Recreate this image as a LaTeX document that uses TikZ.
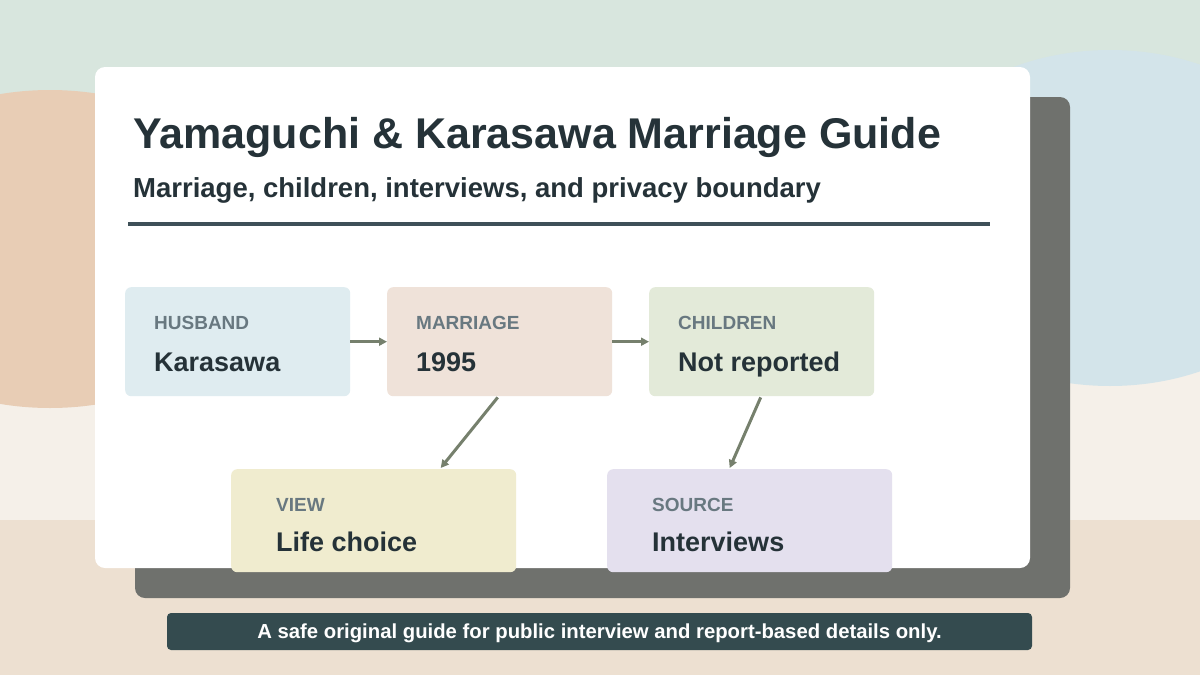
\documentclass[tikz,border=0pt]{standalone}
\usepackage{fontspec}
\setmainfont{Liberation Sans}
\usetikzlibrary{arrows.meta,calc,positioning}
\definecolor{BandGreen}{HTML}{D8E6DE}
\definecolor{BandCream}{HTML}{F5F0E9}
\definecolor{BandBeige}{HTML}{EDE0D1}
\definecolor{BlobTan}{HTML}{E8CDB5}
\definecolor{BlobBlue}{HTML}{D3E4EA}
\definecolor{ShadowGray}{HTML}{6F716D}
\definecolor{InkDark}{HTML}{253238}
\definecolor{RuleSlate}{HTML}{3E5058}
\definecolor{TagGray}{HTML}{687880}
\definecolor{HusbandBlue}{HTML}{DFECF0}
\definecolor{MarriageRose}{HTML}{EFE2D9}
\definecolor{ChildrenSage}{HTML}{E3EAD9}
\definecolor{ViewCream}{HTML}{F0ECCF}
\definecolor{SourceLilac}{HTML}{E4E0EE}
\definecolor{LinkGreen}{HTML}{76806D}
\definecolor{FooterSlate}{HTML}{344B4F}

\begin{document}
\begin{tikzpicture}[x=1pt, y=-1pt,
  topcard/.style={anchor=north west, inner sep=0pt, rounded corners=6pt,
    minimum width=225pt, minimum height=109pt},
  lowcard/.style={anchor=north west, inner sep=0pt, rounded corners=6pt,
    minimum width=285pt, minimum height=103pt},
  tag/.style={anchor=base west, inner sep=0pt, text=TagGray,
    font=\fontsize{19}{22}\selectfont\bfseries},
  value/.style={anchor=base west, inner sep=0pt, text=InkDark,
    font=\fontsize{27}{30}\selectfont\bfseries},
  link/.style={draw=LinkGreen, line width=3pt, -{Triangle[length=8pt, width=8pt]}}]
  \useasboundingbox (0,0) rectangle (1200,675);
  \clip (0,0) rectangle (1200,675);

  % Background bands and blobs
  \fill[BandGreen] (0,0) rectangle (1200,260);
  \fill[BandCream] (0,260) rectangle (1200,520);
  \fill[BandBeige] (0,520) rectangle (1200,675);
  \fill[BlobTan] (50,249) ellipse [x radius=220pt, y radius=159pt];
  \fill[BlobBlue] (1110,218) ellipse [x radius=220pt, y radius=168pt];

  % Card with shadow
  \fill[ShadowGray, rounded corners=10pt] (135,97) rectangle (1070,598);
  \fill[white, rounded corners=10pt] (95,67) rectangle (1030,568);

  % Heading
  \node[anchor=base west, inner sep=0pt, text=InkDark, font=\fontsize{43}{48}\selectfont\bfseries]
    (title) at (133,148) {Yamaguchi \& Karasawa Marriage Guide};
  \node[anchor=base west, inner sep=0pt, text=InkDark, font=\fontsize{27.5}{30}\selectfont\bfseries]
    (subtitle) at (133,197) {Marriage, children, interviews, and privacy boundary};
  \coordinate (ruleL) at (128,224);
  \coordinate (ruleR) at (990,224);
  \draw[RuleSlate, line width=4pt] (ruleL) -- (ruleR);

  % Top row of facts
  \foreach \name/\x/\col/\head/\body in {husband/125/HusbandBlue/HUSBAND/Karasawa,
      marriage/387/MarriageRose/MARRIAGE/1995, children/649/ChildrenSage/CHILDREN/Not reported} {
    \node[topcard, fill=\col] (\name) at (\x,287) {};
    \node[tag] (\name Tag) at ($(\name.north west)+(29,42)$) {\head};
    \node[value] (\name Value) at ($(\name.north west)+(29,84)$) {\body};
  }

  % Lower row
  \foreach \name/\x/\col/\head/\body in {view/231/ViewCream/VIEW/Life choice,
      source/607/SourceLilac/SOURCE/Interviews} {
    \node[lowcard, fill=\col] (\name) at (\x,469) {};
    \node[tag] (\name Tag) at ($(\name.north west)+(45,42)$) {\head};
    \node[value] (\name Value) at ($(\name.north west)+(45,82)$) {\body};
  }

  % Links
  \draw[link] (husband.east) -- (marriage.west);
  \draw[link] (marriage.east) -- (children.west);
  \draw[link] ($(marriage.south)+(-2,1)$) -- ($(view.north)+(67,-1)$);
  \draw[link] ($(children.south)+(-1,1)$) -- ($(source.north)+(-20,-1)$);

  % Footer note
  \node[fill=FooterSlate, rounded corners=4pt, minimum width=865pt, minimum height=37pt,
    inner sep=0pt, text height=15pt, text depth=2pt, text=white,
    font=\fontsize{20.3}{23}\selectfont\bfseries]
    (footer) at (599.5,631.5) {A safe original guide for public interview and report-based details only.};
\end{tikzpicture}
\end{document}
